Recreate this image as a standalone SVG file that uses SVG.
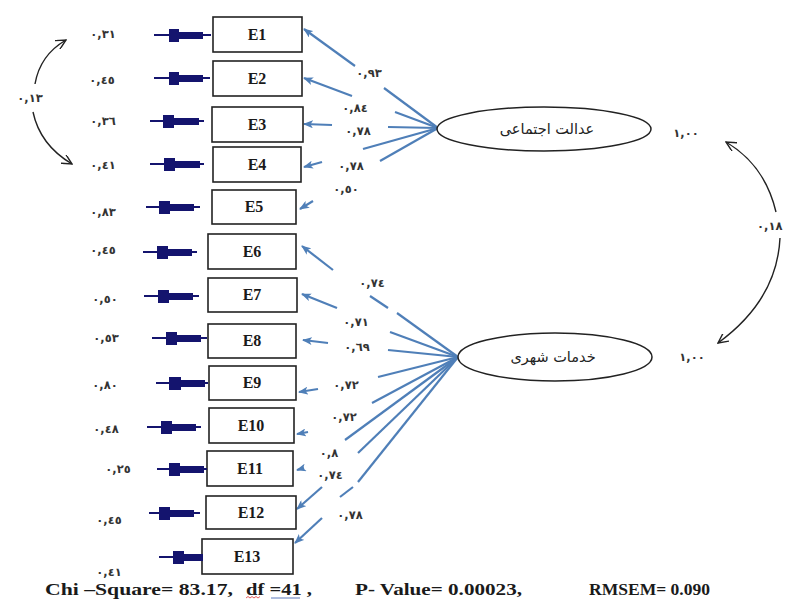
<svg xmlns="http://www.w3.org/2000/svg" width="788" height="599" viewBox="0 0 788 599">
<defs>
<style>
.box{fill:#fff;stroke:#222;stroke-width:1.6}
.bt{font-family:"Liberation Serif",serif;font-weight:bold;font-size:16px;fill:#1a1a1a;text-anchor:middle}
.n{font-family:"DejaVu Sans",sans-serif;font-size:11.5px;font-weight:bold;fill:#333;text-anchor:middle}
.lat{font-family:"DejaVu Sans",sans-serif;font-size:14.5px;fill:#222;text-anchor:middle}
.ell{fill:#fff;stroke:#222;stroke-width:1.5}
.c{stroke:#4f7fb8;stroke-width:2.2;fill:none}
.ca{stroke:#4f7fb8;stroke-width:2.2;fill:none;marker-end:url(#ba)}
.k{stroke:#222;stroke-width:1.4;fill:none;marker-end:url(#ka)}
.el{stroke:#14146e;stroke-width:2}
.eb{fill:#14146e}
.ft{font-family:"Liberation Serif",serif;font-weight:bold;font-size:17px;fill:#1a1a1a}
</style>
<marker id="ba" markerWidth="10" markerHeight="8" refX="9" refY="4" orient="auto" markerUnits="userSpaceOnUse">
<path d="M0,0 L10,4 L0,8 L2.5,4 Z" fill="#4f7fb8"/>
</marker>
<marker id="ka" markerWidth="11" markerHeight="10" refX="10" refY="5" orient="auto" markerUnits="userSpaceOnUse">
<path d="M0,0 L10,5 L0,10" fill="none" stroke="#222" stroke-width="1.4"/>
</marker>
</defs>
<rect width="788" height="599" fill="#fff"/>

<!-- connectors -->
<g id="connectors">
<path class="c" d="M438,128 L384,88"/><path class="ca" d="M355,66 L304,29"/>
<path class="c" d="M438,128 L395,112"/><path class="ca" d="M352,96 L304,78"/>
<path class="c" d="M438,128 L388,127"/><path class="ca" d="M332,125 L304,124"/>
<path class="c" d="M438,128 L363,149"/><path class="ca" d="M322,162 L304,167"/>
<path class="c" d="M438,128 L380,161"/><path class="ca" d="M313,201 L300,209"/>

<path class="c" d="M458,357 L397,313"/><path class="c" d="M388,308 L370,296"/><path class="ca" d="M333,270 L302,246"/>
<path class="c" d="M458,357 L390,332"/><path class="ca" d="M337,308 L302,294"/>
<path class="c" d="M458,357 L388,350"/><path class="ca" d="M328,343 L303,340"/>
<path class="c" d="M458,357 L378,377"/><path class="ca" d="M318,389 L299,392"/>
<path class="c" d="M458,357 L372,403"/><path class="ca" d="M308,432 L297,434"/>
<path class="c" d="M458,357 L345,440"/><path class="ca" d="M304,468 L297,470"/>
<path class="c" d="M458,357 L358,453"/><path class="ca" d="M322,487 L297,509"/>
<path class="c" d="M458,357 L358,482"/><path class="c" d="M353,487 L340,497"/><path class="ca" d="M322,518 L295,543"/>

<path class="k" d="M35,84 Q40,55 66,40"/>
<path class="k" d="M33,112 Q40,145 72,164"/>
<path class="k" d="M776,212 Q765,165 726,142"/>
<path class="k" d="M780,238 Q777,300 718,343"/>
</g>

<!-- coefficient labels -->
<g id="loadings">
<text class="n" x="369" y="77">٠,٩٣</text>
<text class="n" x="355" y="112">٠,٨٤</text>
<text class="n" x="358" y="135">٠,٧٨</text>
<text class="n" x="351" y="170">٠,٧٨</text>
<text class="n" x="346" y="193">٠,٥٠</text>
<text class="n" x="372" y="287">٠,٧٤</text>
<text class="n" x="356" y="326">٠,٧١</text>
<text class="n" x="357" y="351">٠,٦٩</text>
<text class="n" x="346" y="389">٠,٧٢</text>
<text class="n" x="344" y="421">٠,٧٢</text>
<text class="n" x="329" y="457">٠,٨</text>
<text class="n" x="330" y="479">٠,٧٤</text>
<text class="n" x="350" y="519">٠,٧٨</text>
<text class="n" x="30" y="102">٠,١٣</text>
<text class="n" x="686" y="137">١,٠٠</text>
<text class="n" x="692" y="361">١,٠٠</text>
<text class="n" x="757" y="230" style="text-anchor:start">٠,١٨</text>
</g>

<!-- latent variables -->
<g id="justice">
<ellipse class="ell" cx="544" cy="129" rx="107" ry="22"/>
<text class="lat" x="547" y="134">عدالت اجتماعی</text>
</g>
<g id="services">
<ellipse class="ell" cx="555" cy="357" rx="97" ry="24"/>
<text class="lat" x="553" y="362">خدمات شهری</text>
</g>

<!-- indicators -->
<g id="E1"><rect class="box" x="213" y="17" width="89" height="35"/><text class="bt" x="257" y="40">E1</text>
<line class="el" x1="154" y1="35" x2="211" y2="35"/><rect class="eb" x="169" y="29" width="10" height="13"/><rect class="eb" x="178" y="32" width="25" height="7"/><text class="n" x="103" y="38">٠,٣١</text></g>
<g id="E2"><rect class="box" x="213" y="61" width="89" height="35"/><text class="bt" x="257" y="84">E2</text>
<line class="el" x1="154" y1="78" x2="210" y2="78"/><rect class="eb" x="169" y="72" width="10" height="13"/><rect class="eb" x="178" y="75" width="25" height="7"/><text class="n" x="102" y="84">٠,٤٥</text></g>
<g id="E3"><rect class="box" x="212" y="107" width="91" height="35"/><text class="bt" x="257" y="130">E3</text>
<line class="el" x1="150" y1="121" x2="204" y2="121"/><rect class="eb" x="163" y="115" width="11" height="13"/><rect class="eb" x="173" y="118" width="26" height="7"/><text class="n" x="103" y="125">٠,٣٦</text></g>
<g id="E4"><rect class="box" x="213" y="147" width="88" height="35"/><text class="bt" x="257" y="170">E4</text>
<line class="el" x1="150" y1="164" x2="204" y2="164"/><rect class="eb" x="164" y="158" width="11" height="13"/><rect class="eb" x="174" y="161" width="26" height="7"/><text class="n" x="103" y="169">٠,٤١</text></g>
<g id="E5"><rect class="box" x="212" y="190" width="84" height="34"/><text class="bt" x="254" y="212">E5</text>
<line class="el" x1="146" y1="207" x2="200" y2="207"/><rect class="eb" x="159" y="201" width="11" height="13"/><rect class="eb" x="169" y="204" width="25" height="7"/><text class="n" x="103" y="216">٠,٨٣</text></g>
<g id="E6"><rect class="box" x="208" y="234" width="88" height="35"/><text class="bt" x="252" y="257">E6</text>
<line class="el" x1="143" y1="252" x2="197" y2="252"/><rect class="eb" x="157" y="246" width="11" height="13"/><rect class="eb" x="167" y="249" width="25" height="7"/><text class="n" x="103" y="254">٠,٤٥</text></g>
<g id="E7"><rect class="box" x="208" y="278" width="89" height="34"/><text class="bt" x="252" y="300">E7</text>
<line class="el" x1="144" y1="296" x2="199" y2="296"/><rect class="eb" x="158" y="290" width="11" height="13"/><rect class="eb" x="168" y="293" width="25" height="7"/><text class="n" x="105" y="303">٠,٥٠</text></g>
<g id="E8"><rect class="box" x="208" y="324" width="88" height="34"/><text class="bt" x="252" y="346">E8</text>
<line class="el" x1="152" y1="338" x2="207" y2="338"/><rect class="eb" x="166" y="332" width="11" height="13"/><rect class="eb" x="176" y="335" width="25" height="7"/><text class="n" x="106" y="342">٠,٥٣</text></g>
<g id="E9"><rect class="box" x="209" y="366" width="87" height="34"/><text class="bt" x="252" y="388">E9</text>
<line class="el" x1="156" y1="383" x2="208" y2="383"/><rect class="eb" x="169" y="377" width="12" height="13"/><rect class="eb" x="180" y="380" width="25" height="7"/><text class="n" x="105" y="389">٠,٨٠</text></g>
<g id="E10"><rect class="box" x="209" y="408" width="85" height="35"/><text class="bt" x="251" y="431">E10</text>
<line class="el" x1="147" y1="427" x2="201" y2="427"/><rect class="eb" x="161" y="421" width="11" height="13"/><rect class="eb" x="171" y="424" width="25" height="7"/><text class="n" x="106" y="433">٠,٤٨</text></g>
<g id="E11"><rect class="box" x="207" y="451" width="86" height="35"/><text class="bt" x="250" y="474">E11</text>
<line class="el" x1="157" y1="469" x2="207" y2="469"/><rect class="eb" x="169" y="463" width="11" height="13"/><rect class="eb" x="179" y="466" width="25" height="7"/><text class="n" x="118" y="473">٠,٢٥</text></g>
<g id="E12"><rect class="box" x="206" y="496" width="90" height="33"/><text class="bt" x="251" y="518">E12</text>
<line class="el" x1="149" y1="513" x2="200" y2="513"/><rect class="eb" x="159" y="507" width="11" height="13"/><rect class="eb" x="169" y="510" width="25" height="7"/><text class="n" x="109" y="524">٠,٤٥</text></g>
<g id="E13"><rect class="box" x="202" y="539" width="91" height="35"/><text class="bt" x="247" y="562">E13</text>
<line class="el" x1="159" y1="557" x2="202" y2="557"/><rect class="eb" x="173" y="551" width="11" height="13"/><rect class="eb" x="183" y="554" width="20" height="7"/><text class="n" x="109" y="576">٠,٤١</text></g>

<!-- fit statistics -->
<g id="fit">
<text class="ft" y="595"><tspan x="45" textLength="188" lengthAdjust="spacingAndGlyphs">Chi –Square= 83.17,</tspan><tspan x="246" textLength="66" lengthAdjust="spacingAndGlyphs">df =41 ,</tspan><tspan x="355" textLength="167" lengthAdjust="spacingAndGlyphs">P- Value= 0.00023,</tspan><tspan x="589" textLength="121" lengthAdjust="spacingAndGlyphs">RMSEM= 0.090</tspan></text>
<path d="M246,598 l2,-1.5 l2,1.5 l2,-1.5 l2,1.5 l2,-1.5 l2,1.5 l2,-1.5" stroke="#d33" stroke-width="0.8" fill="none"/>
<line x1="271" y1="598" x2="300" y2="598" stroke="#35a" stroke-width="0.8"/>
</g>
</svg>
